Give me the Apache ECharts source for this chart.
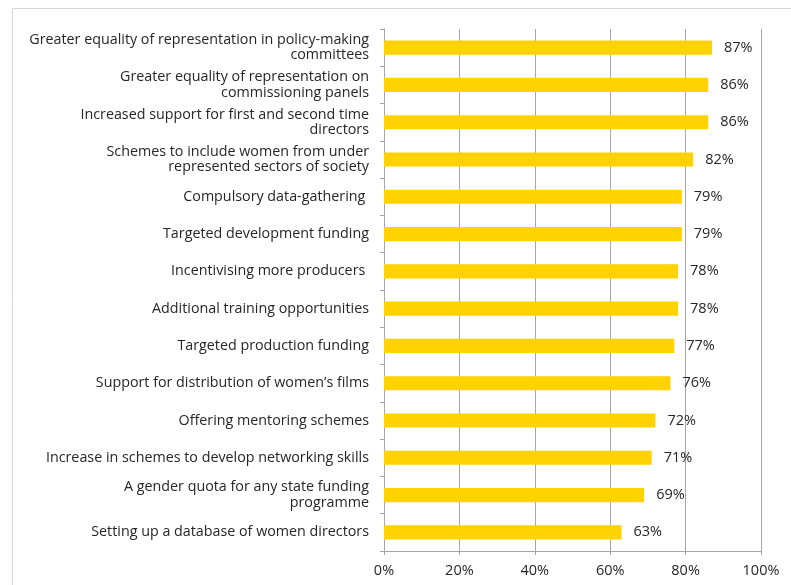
<!DOCTYPE html>
<html>
<head>
<meta charset="utf-8">
<script src="https://cdn.jsdelivr.net/npm/echarts@6/dist/echarts.min.js"></script>
<style>
  html, body { margin: 0; padding: 0; background: #fff; }
  #chart { width: 791px; height: 585px; }
</style>
</head>
<body>
<div id="chart"></div>
<script>
// Measures supported, listed top to bottom
const categories = [
  'Greater equality of representation in policy-making\ncommittees',
  'Greater equality of representation on\ncommissioning panels',
  'Increased support for first and second time\ndirectors',
  'Schemes to include women from under\nrepresented sectors of society',
  'Compulsory data-gathering ',
  'Targeted development funding',
  'Incentivising more producers ',
  'Additional training opportunities',
  'Targeted production funding',
  'Support for distribution of women\u2019s films',
  'Offering mentoring schemes',
  'Increase in schemes to develop networking skills',
  'A gender quota for any state funding\nprogramme',
  'Setting up a database of women directors'
];
// Share of respondents in favour (%)
const support = [87, 86, 86, 82, 79, 79, 78, 78, 77, 76, 72, 71, 69, 63];
// X-axis tick labels
const tickLabels = ['0%', '20%', '40%', '60%', '80%', '100%'];

const FONT = '"Open Sans", sans-serif';
const GRID_GREY = '#a6a6a6';
const TEXT = '#262626';

const chart = echarts.init(document.getElementById('chart'), null, { renderer: 'canvas' });
chart.setOption({
  animation: false,
  backgroundColor: '#ffffff',
  graphic: [{
    type: 'rect',
    left: 10, top: 6,
    shape: { width: 800, height: 600 },
    style: { fill: 'none', stroke: '#d4d4d4', lineWidth: 1 },
    silent: true
  }],
  grid: { left: 384, right: 30, top: 29, bottom: 34, containLabel: false },
  xAxis: {
    type: 'value',
    min: 0, max: 100, interval: 20,
    axisLine: { show: true, lineStyle: { color: GRID_GREY } },
    axisTick: { show: true, length: 4, lineStyle: { color: GRID_GREY } },
    splitLine: { show: true, lineStyle: { color: GRID_GREY, width: 1 } },
    axisLabel: {
      margin: 12,
      color: TEXT, fontFamily: FONT, fontSize: 14.5,
      formatter: (v) => tickLabels[Math.round(v / 20)]
    }
  },
  yAxis: {
    type: 'category',
    inverse: true,
    data: categories,
    axisLine: { show: true, lineStyle: { color: GRID_GREY } },
    axisTick: { show: true, length: 4, lineStyle: { color: GRID_GREY } },
    axisLabel: {
      margin: 15,
      color: TEXT, fontFamily: FONT, fontSize: 14.3,
      lineHeight: 15.5, align: 'right'
    }
  },
  series: [{
    type: 'bar',
    data: support,
    barCategoryGap: '62%',
    itemStyle: { color: '#FFD200' },
    label: {
      show: true,
      position: 'right',
      distance: 12,
      color: TEXT, fontFamily: FONT, fontSize: 14.5,
      formatter: (p) => p.value + '%'
    }
  }]
});
</script>
</body>
</html>
